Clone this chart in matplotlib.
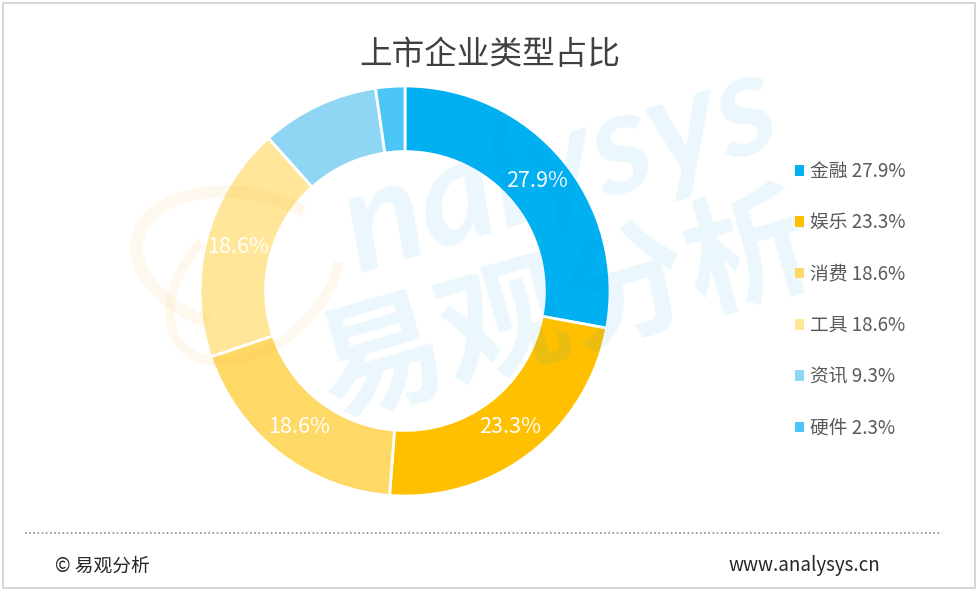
import numpy as np
import matplotlib.pyplot as plt
from matplotlib.patches import Rectangle, Arc

plt.rcParams['font.family'] = ['Noto Sans CJK SC', 'DejaVu Sans']

categories = ['金融', '娱乐', '消费', '工具', '资讯', '硬件']
shares = [27.9, 23.3, 18.6, 18.6, 9.3, 2.3]
colors = ['#00b0f0', '#ffc000', '#ffd966', '#ffe699', '#8fd6f5', '#4cc6f7']
title = '上市企业类型占比'

W, H = 979, 592
fig = plt.figure(figsize=(W / 100, H / 100), dpi=100)
fig.patch.set_facecolor('white')

# outer frame
fig.patches.append(Rectangle((3 / W, 4 / H), 972 / W, 585 / H, transform=fig.transFigure,
                             fill=False, edgecolor='#d0d0d0', linewidth=1.2))

# donut
cx, cy, r = 405, 291, 205
ax = fig.add_axes([(cx - r) / W, (H - cy - r) / H, 2 * r / W, 2 * r / H])
wedges, _ = ax.pie(shares, colors=colors, startangle=90, counterclock=False, radius=1,
                   wedgeprops=dict(width=0.32, edgecolor='white', linewidth=2))
ax.set_xlim(-1, 1)
ax.set_ylim(-1, 1)
ax.set_aspect('equal')
ax.axis('off')

for w, v in zip(wedges, shares):
    mid = np.deg2rad((w.theta1 + w.theta2) / 2)
    if v > 10:
        rr = 0.84
        ax.text(rr * np.cos(mid), rr * np.sin(mid), f'{v}%', ha='center', va='center',
                color='white', fontsize=15.5, fontweight='medium')

# title
fig.text(490 / W, 1 - 55 / H, title, ha='center', va='center', fontsize=23.5,
         fontweight='medium', color='#404040')

# legend
labels = [f'{c} {v}%' for c, v in zip(categories, shares)]
leg = fig.legend(wedges, labels, loc='upper left', bbox_to_anchor=(778 / W, 1 - 144 / H),
                 frameon=False, handlelength=0.5, handleheight=0.5, handletextpad=0.3,
                 labelspacing=1.62, prop={'weight': 'medium', 'size': 13.5},
                 labelcolor='#595959')
for h in leg.legend_handles:
    h.set_linewidth(0)

# watermark
fig.text(560 / W, 1 - 168 / H, 'nalysys', ha='center', va='center', rotation=17,
         fontsize=104, style='italic', fontweight='bold', color='#00a0e9', alpha=0.08,
         family='Lato')
fig.text(566 / W, 1 - 310 / H, '易观分析', ha='center', va='center', rotation=16,
         fontsize=92, fontweight='bold', color='#00a0e9', alpha=0.08)
fig.patches.append(Arc((245 / W, 1 - 262 / H), 200 / W, 150 / H, angle=35, theta1=20, theta2=215,
                       transform=fig.transFigure, color='#f5a623', alpha=0.07, linewidth=9))
fig.patches.append(Arc((255 / W, 1 - 280 / H), 150 / W, 170 / H, angle=-20, theta1=150, theta2=400,
                       transform=fig.transFigure, color='#f5a623', alpha=0.07, linewidth=7))

# footer
fig.add_artist(plt.Line2D([25 / W, 942 / W], [1 - 533 / H, 1 - 533 / H], transform=fig.transFigure,
                          color='#8c8c8c', linestyle=(0, (1, 1.5)), linewidth=1.2))
fig.text(55 / W, 1 - 566 / H, '© 易观分析', ha='left', va='center', fontsize=13.5,
         fontweight='medium', color='#262626')
fig.text(880 / W, 1 - 566 / H, 'www.analysys.cn', ha='right', va='center', fontsize=13.5,
         fontweight='medium', color='#262626')

fig.savefig('out.png', dpi=100)
